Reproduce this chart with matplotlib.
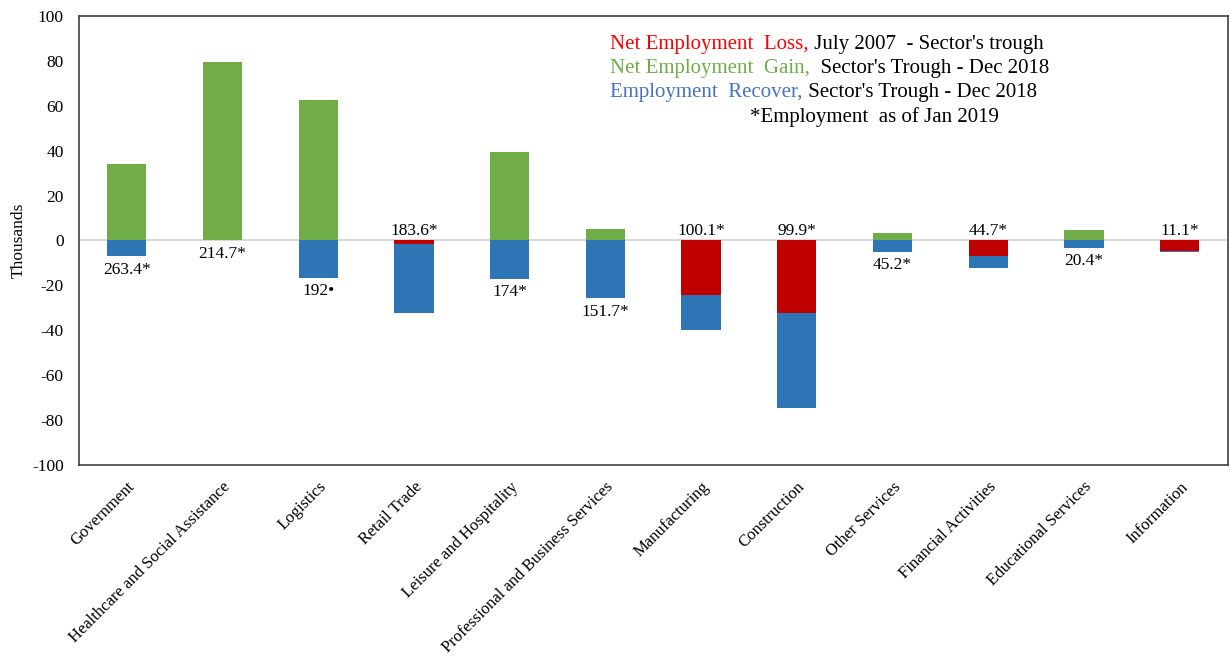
import numpy as np
import matplotlib.pyplot as plt

plt.rcParams['font.family'] = ['Liberation Serif', 'DejaVu Serif']
plt.rcParams['axes.unicode_minus'] = False

sectors = ['Government', 'Healthcare and Social Assistance', 'Logistics', 'Retail Trade',
           'Leisure and Hospitality', 'Professional and Business Services', 'Manufacturing',
           'Construction', 'Other Services', 'Financial Activities', 'Educational Services',
           'Information']
# thousands of jobs
net_gain = [34, 79.3, 62.4, 0, 39.2, 5.2, 0, 0, 3.4, 0, 4.6, 0]
net_loss = [0, 0, 0, 1.6, 0, 0, 24.5, 32.4, 0, 7.1, 0, 4.8]
recover = [7, 0, 16.6, 30.6, 17, 25.8, 15.6, 42.1, 5, 5.1, 3.3, 0.5]
employment = ['263.4*', '214.7*', '192\u2022', '183.6*', '174*', '151.7*', '100.1*',
              '99.9*', '45.2*', '44.7*', '20.4*', '11.1*']

green = '#70AD47'
red = '#C00000'
blue = '#2E75B6'

fig = plt.figure(figsize=(12.3, 6.6), dpi=100)
ax = fig.add_axes([0.0642, 0.2955, 0.9338, 0.6803])

x = np.arange(len(sectors))
loss = -np.array(net_loss)
rec = -np.array(recover)
w = 0.41
ax.axhline(0, color='#D9D9D9', lw=1.5, zorder=1)
ax.bar(x, net_gain, w, color=green, zorder=2)
ax.bar(x, loss, w, color=red, zorder=2)
ax.bar(x, rec, w, bottom=loss, color=blue, zorder=2)

# employment level labels: above zero for sectors still below pre-recession, else under the bar
for i, lab in enumerate(employment):
    if net_loss[i] > 0:
        ax.annotate(lab, (x[i], 0), xytext=(0, 1), textcoords='offset points',
                    ha='center', va='bottom', fontsize=12.5)
    else:
        ax.annotate(lab, (x[i], loss[i] + rec[i]), xytext=(0, -4), textcoords='offset points',
                    ha='center', va='top', fontsize=12.5)

ax.set_xlim(-0.5, len(sectors) - 0.5)
ax.set_ylim(-100, 100)
ax.set_yticks(range(-100, 101, 20))
ax.set_xticks(x)
ax.set_xticklabels(sectors, rotation=45, ha='right', rotation_mode='anchor')
ax.tick_params(length=0)
ax.tick_params(axis='x', pad=10, labelsize=12)
ax.tick_params(axis='y', pad=11, labelsize=12.5)
ax.set_ylabel('Thousands', fontsize=12.5, labelpad=4)
for s in ax.spines.values():
    s.set_color('#404040')
    s.set_linewidth(1.2)

# coloured legend lines
rows = [
    [('Net Employment  Loss,', '#FF0000'), (' July 2007  - Sector\'s trough', 'black')],
    [('Net Employment  Gain,', green), ('  Sector\'s Trough - Dec 2018', 'black')],
    [('Employment  Recover,', '#4472C4'), (' Sector\'s Trough - Dec 2018', 'black')],
]
y0 = 0.958
for r, parts in enumerate(rows):
    prev = ax.text(0.4625, y0 - r * 0.0535, parts[0][0], color=parts[0][1], transform=ax.transAxes,
                   ha='left', va='top', fontsize=15)
    for txt, col in parts[1:]:
        prev = ax.annotate(txt, xy=(1, 0), xycoords=prev, ha='left', va='bottom',
                           color=col, fontsize=15)
ax.text(0.584, y0 - 3 * 0.0535, '*Employment  as of Jan 2019', transform=ax.transAxes,
        ha='left', va='top', fontsize=15)

fig.savefig('out.png', dpi=100)
